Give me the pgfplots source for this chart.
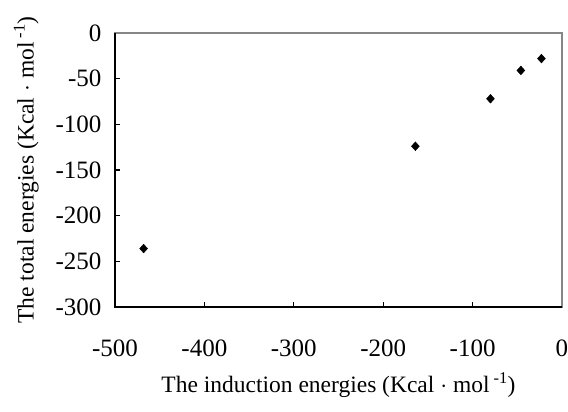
\documentclass[border=0pt]{standalone}
\usepackage{pgfplots}
\pgfplotsset{compat=1.18}
\usepackage{fontspec}
\setmainfont{Liberation Serif}

\begin{document}
\begin{tikzpicture}
\useasboundingbox (-115bp,-105bp) rectangle (453bp,307bp);
\begin{axis}[at={(0,0)}, anchor=south west, scale only axis,
  width=447bp, height=274bp,
  xmin=-500, xmax=0, ymin=-300, ymax=0,
  xtick={-500,-400,...,0}, ytick={-300,-250,...,0},
  tick align=inside, major tick length=5bp,
  tick style={black, line width=1.3bp},
  xtick pos=bottom, ytick pos=left,
  axis line style={draw=gray!95, line width=1.6bp},
  /pgf/number format/assume math mode=true,
  ticklabel style={font=\fontsize{25bp}{28bp}\selectfont},
  xticklabel style={yshift=-29bp},
  yticklabel style={xshift=-10bp},
  label style={font=\fontsize{23.5bp}{26bp}\selectfont},
  xlabel={The induction energies (Kcal $\cdot$ mol\,\textsuperscript{-1})},
  ylabel={The total energies (Kcal $\cdot$ mol\,\textsuperscript{-1})},
  xlabel style={yshift=-9bp},
  ylabel style={yshift=10bp},
  clip=false]
\addplot[only marks, mark=diamond*, mark size=4.4bp, mark options={xscale=1.2, fill=black, draw=black}]
  coordinates {(-468,-236) (-164,-124) (-80,-72) (-46,-41) (-23,-28)};
\draw[black, line width=2.4bp] (rel axis cs:0,1) -- (rel axis cs:0,0) -- (rel axis cs:1,0);
\end{axis}
\end{tikzpicture}
\end{document}
